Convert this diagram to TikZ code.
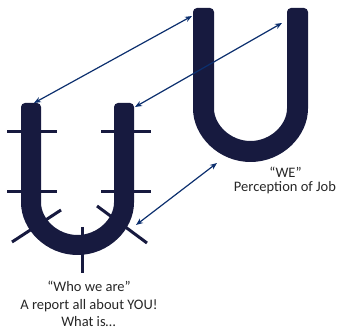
\documentclass[tikz,border=0pt]{standalone}
\usepackage{fontspec}
\setmainfont{Carlito}
\usetikzlibrary{arrows.meta}
\definecolor{navy}{HTML}{171A3F}
\definecolor{arrowblue}{HTML}{0C2F6E}
\begin{document}
\begin{tikzpicture}[x=1pt,y=1pt,
  ushape/.style={fill=navy,rounded corners=4pt},
  tick/.style={draw=navy,line width=3pt},
  link/.style={draw=arrowblue,line width=1.2pt,{Stealth[length=7pt,width=5.5pt]}-{Stealth[length=7pt,width=5.5pt]}},
  label/.style={anchor=base,inner sep=0pt,font=\fontsize{14.5}{17}\selectfont,text=black!85}]
\useasboundingbox (0,0) rectangle (337,329);
% left U
\fill[ushape] (21,226) -- (21,130.5) arc[start angle=180,end angle=360,radius=56.5]
  -- (134,226) -- (114,226) -- (114,130.5) arc[start angle=0,end angle=-180,radius=36.5]
  -- (41,226) -- cycle;
% right U
\fill[ushape] (193,321) -- (193,224.5) arc[start angle=180,end angle=360,radius=57.5]
  -- (308,321) -- (287,321) -- (287,224.5) arc[start angle=0,end angle=-180,radius=36.5]
  -- (214,321) -- cycle;
% ticks on left U
\draw[tick] (7,197) -- (57,197);
\draw[tick] (101,197) -- (151,197);
\draw[tick] (7,137) -- (57,137);
\draw[tick] (101,137) -- (151,137);
\draw[tick] (12,87) -- (61,119);
\draw[tick] (97,123) -- (147,86);
\draw[tick] (82.5,102) -- (82.5,56);
% connector ends
\coordinate (lUleft) at (34,226);
\coordinate (rUleft) at (192,313);
\coordinate (rUin) at (282,306);
\coordinate (lUright) at (135,222);
\coordinate (lUside) at (136,104);
\coordinate (rUbottom) at (217,166);
\draw[link] (lUleft) -- (rUleft);
\draw[link] (rUin) -- (lUright);
\draw[link] (lUside) -- (rUbottom);
% labels
\node[label] (we) at (285.5,151.7) {“WE”};
\node[label] (job) at (285,137.3) {Perception of Job};
\node[label] (who) at (89,37.3) {“Who we are”};
\node[label] (rep) at (89,19.7) {A report all about YOU!};
\node[label] (what) at (88.5,2.3) {What is…};
\end{tikzpicture}
\end{document}
